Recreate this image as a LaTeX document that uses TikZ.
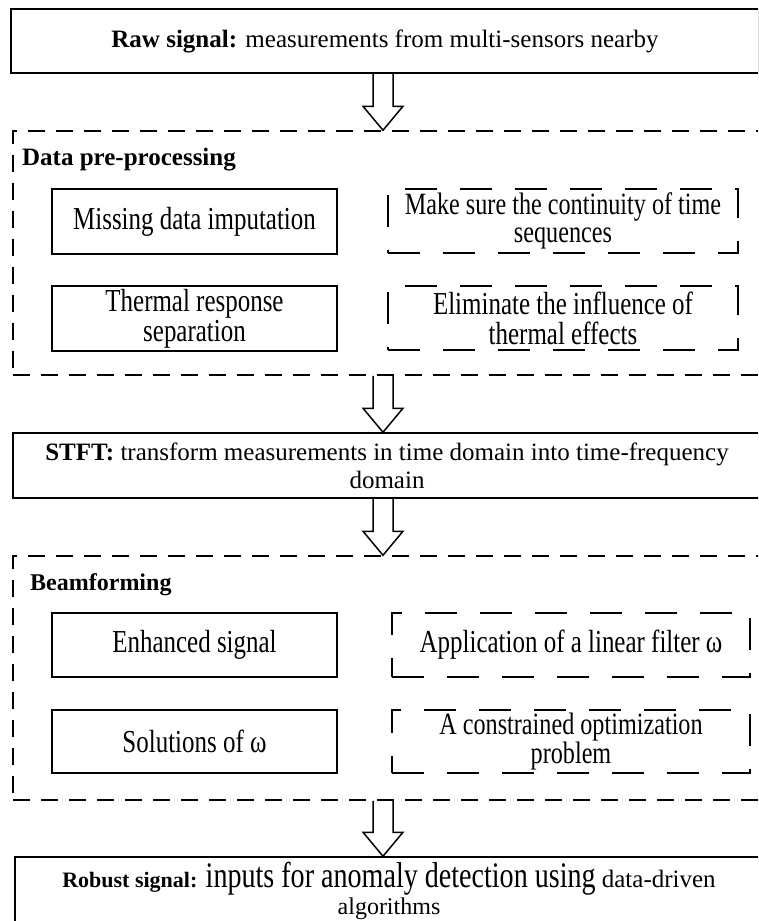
\documentclass[tikz,border=0pt]{standalone}
\usepackage{fontspec}
\setmainfont{Liberation Serif}
\newfontfamily\condfont{Liberation Serif}[FakeStretch=0.78]
\usetikzlibrary{calc,positioning}

\begin{document}
\begin{tikzpicture}[x=1pt,y=-1pt,
    mainbox/.style={draw, line width=1.5pt, minimum width=748pt, inner sep=0pt, align=center,
      font=\fontsize{25}{28}\selectfont},
    outerbox/.style={draw, line width=1.5pt, dash pattern=on 17pt off 11pt,
      minimum width=748pt, minimum height=244pt, inner sep=0pt},
    solidbox/.style={draw, line width=1.5pt, minimum width=285pt, minimum height=65pt,
      inner sep=0pt, align=center, font=\condfont\fontsize{32}{30}\selectfont},
    dashbox/.style={solidbox, dash pattern=on 32pt off 23pt},
    grouptitle/.style={anchor=base west, inner sep=0pt, font=\bfseries\fontsize{25}{28}\selectfont},
    hollow/.style={line width=1.5pt, to path={let \p1=(\tikztostart), \p2=(\tikztotarget) in
      (\x1-10pt,\y1) -- (\x1-10pt,\y2+24pt) -- (\x1-20pt,\y2+24pt) -- (\x1,\y2)
      -- (\x1+20pt,\y2+24pt) -- (\x1+10pt,\y2+24pt) -- (\x1+10pt,\y1)}}]
  \useasboundingbox (0,0) rectangle (758,921);
  \clip (0,0) rectangle (758,921);
  \coordinate (axis) at (383,0);

  % Raw signal
  \node[mainbox, minimum height=64pt] (raw) at (385,41)
    {\textbf{Raw signal:} measurements from multi-sensors nearby};

  % Data pre-processing group
  \node[outerbox] (pre) at (387,253) {};
  \node[grouptitle] (pretitle) at (22,165) {Data pre-processing};
  \node[solidbox] (miss) at (194.5,221.5) {Missing data imputation};
  \node[dashbox, minimum width=350pt, minimum height=64pt, font=\condfont\fontsize{31}{28.5}\selectfont] (cont) at (563,221)
    {Make sure the continuity of time\\sequences};
  \node[solidbox] (therm) at (194.5,318.5) {Thermal response\\separation};
  \node[dashbox, minimum width=350pt, minimum height=64pt] (elim) at (563,318)
    {Eliminate the influence of\\thermal effects};

  % STFT
  \node[mainbox, minimum height=65pt] (stft) at (387,465.5)
    {\textbf{STFT:} transform measurements in time domain into time-frequency\\domain};

  % Beamforming group
  \node[outerbox] (beam) at (387,678) {};
  \node[grouptitle, font=\bfseries\fontsize{24}{28}\selectfont] (beamtitle) at (30,590) {Beamforming};
  \node[solidbox, minimum height=64pt] (enh) at (194.5,645) {Enhanced signal};
  \node[dashbox, minimum width=358pt, minimum height=64pt] (filt) at (571,645)
    {Application of a linear filter ω};
  \node[solidbox, minimum height=63pt] (sol) at (194.5,741.5) {Solutions of ω};
  \node[dashbox, minimum width=358pt, minimum height=63pt, font=\condfont\fontsize{31}{28}\selectfont] (opt) at (571,741.5)
    {A constrained optimization\\problem};

  % Robust signal
  \node[mainbox, minimum height=68pt, font=\fontsize{25}{27}\selectfont] (rob) at (389,891)
    {{\bfseries\fontsize{22}{27}\selectfont Robust signal:}
     {\condfont\fontsize{36}{27}\selectfont inputs for anomaly detection using}
     data-driven\\{\fontsize{24}{27}\selectfont algorithms}};

  % Arrows between stages
  \draw[hollow] (raw.south -| axis) to (pre.north -| axis);
  \draw[hollow] (pre.south -| axis) to (stft.north -| axis);
  \draw[hollow] (stft.south -| axis) to (beam.north -| axis);
  \draw[hollow] (beam.south -| axis) to (rob.north -| axis);
\end{tikzpicture}
\end{document}
